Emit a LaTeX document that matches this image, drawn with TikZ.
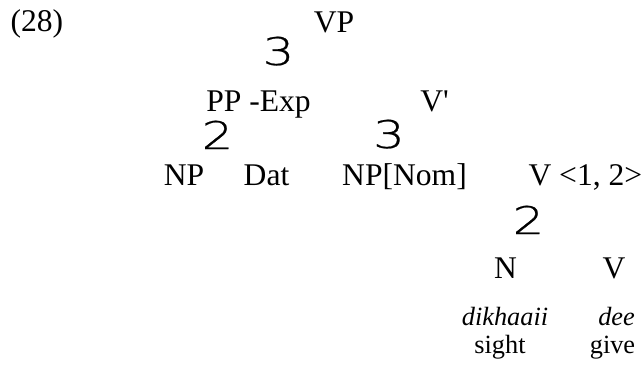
\documentclass[tikz,border=0pt]{standalone}
\usepackage{fontspec}
\usepackage{graphicx}
\setmainfont{Liberation Serif}
\newfontfamily\branchfont{DejaVu Sans ExtraLight}[FakeBold=0.6]
\newcommand\brglyph[1]{\scalebox{1.3}[1]{\branchfont\fontsize{14.5}{14.5}\selectfont #1}}
\begin{document}
\begin{tikzpicture}[x=0.38pt,y=-0.38pt,
    cat/.style={anchor=base,inner sep=0pt,font=\fontsize{12}{14}\selectfont},
    branch/.style={anchor=base,inner sep=0pt},
    word/.style={anchor=base,inner sep=0pt,font=\fontsize{10}{12}\selectfont\itshape},
    gloss/.style={anchor=base,inner sep=0pt,font=\fontsize{10}{12}\selectfont}]
        \useasboundingbox (0,0) rectangle (642,364);
        \node[cat,anchor=base west] (ex) at (10,31) {(28)};
        \node[cat] (vp) at (334,32) {VP};
        \node[branch] (b1) at (278.5,65) {\brglyph{3}};
        \node[cat] (pp) at (258.5,111) {PP -Exp};
        \node[cat] (vbar) at (434.5,111) {V\textquotesingle};
        \node[branch] (b2) at (217.5,149) {\brglyph{2}};
        \node[branch] (b3) at (389,148) {\brglyph{3}};
        \node[cat] (np) at (184,185) {NP};
        \node[cat] (dat) at (266.5,185) {Dat};
        \node[cat] (nom) at (404.5,185) {NP[Nom]};
        \node[cat,anchor=base west] (v) at (528,185) {V <1, 2>};
        \node[branch] (b4) at (528.5,234) {\brglyph{2}};
        \node[cat] (n) at (505.5,278) {N};
        \node[cat] (vv) at (614,278) {V};
        \node[word] (dik) at (505,325) {dikhaaii};
        \node[word] (dee) at (616.5,325) {dee};
        \node[gloss] (sight) at (500,353) {sight};
        \node[gloss] (give) at (612.5,353) {give};
    \end{tikzpicture}
\end{document}
